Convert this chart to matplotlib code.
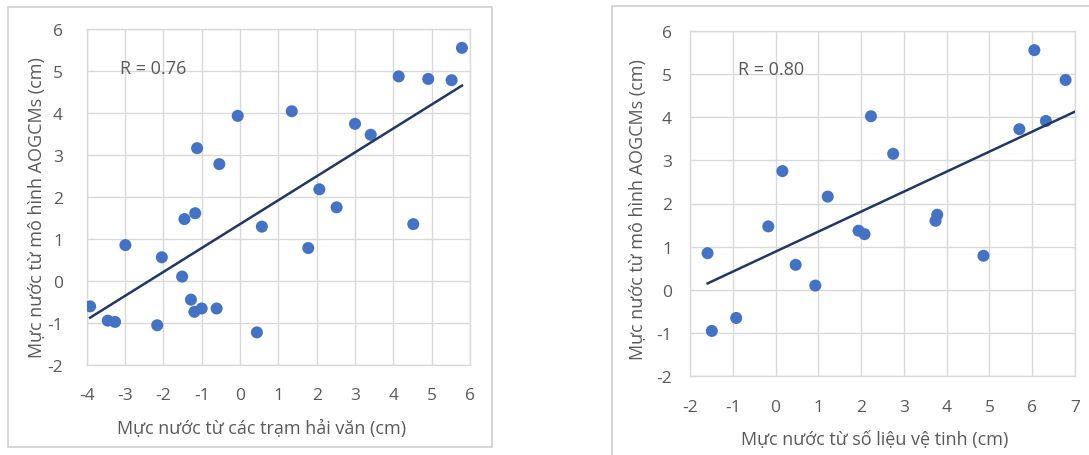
import numpy as np
import matplotlib
matplotlib.use("Agg")
import matplotlib.pyplot as plt
from matplotlib.patches import Rectangle

# ---- Data ----
station_x = [5.79, 4.14, 4.91, 5.52, -0.06, 1.35, 3.00, 3.41, -1.12, -0.54,
             2.07, -1.17, -1.45, 2.52, 0.57, 4.52, 1.78, -2.99, -2.04, -1.51,
             -1.28, -1.19, -1.00, -0.61, -3.91, -3.45, -3.26, -2.16, 0.44]
station_y = [5.55, 4.87, 4.81, 4.78, 3.93, 4.04, 3.74, 3.48, 3.16, 2.78,
             2.18, 1.61, 1.47, 1.75, 1.29, 1.35, 0.78, 0.85, 0.56, 0.10,
             -0.45, -0.74, -0.66, -0.66, -0.61, -0.95, -0.98, -1.06, -1.23]

sat_x = [6.05, 6.78, 6.32, 5.70, 2.23, 2.75, 0.16, 1.22, 3.78, 3.74,
         1.94, 2.08, -0.17, -1.59, 0.47, 0.93, 4.86, -0.92, -1.49]
sat_y = [5.55, 4.86, 3.91, 3.72, 4.02, 3.15, 2.75, 2.16, 1.74, 1.60,
         1.37, 1.29, 1.47, 0.85, 0.58, 0.10, 0.79, -0.65, -0.95]

# trend lines (slope, intercept)
left_trend = (0.570, 1.35)
right_trend = (0.463, 0.886)
right_trend_xmax = 7

left_xticks = [-4, -3, -2, -1, 0, 1, 2, 3, 4, 5, 6]
right_xticks = [-2, -1, 0, 1, 2, 3, 4, 5, 6, 7]
yticks = [-2, -1, 0, 1, 2, 3, 4, 5, 6]

left_R = "R = 0.76"
right_R = "R = 0.80"
ylabel = "Mực nước từ mô hình AOGCMs (cm)"
left_xlabel = "Mực nước từ các trạm hải văn (cm)"
right_xlabel = "Mực nước từ số liệu vệ tinh (cm)"

# ---- Style ----
plt.rcParams['font.family'] = ['Open Sans', 'DejaVu Sans']
plt.rcParams['axes.unicode_minus'] = False
W, H = 1089, 456
fig = plt.figure(figsize=(W / 100, H / 100), dpi=100)
fig.patch.set_facecolor('white')

TXT = '#595959'
GRID = '#D9D9D9'
DOT = '#4472C4'
LINE = '#1F3864'

def px_axes(x0, y0, x1, y1):
    return fig.add_axes([x0 / W, 1 - y1 / H, (x1 - x0) / W, (y1 - y0) / H])

def box(x0, y0, x1, y1):
    fig.patches.append(Rectangle((x0 / W, 1 - y1 / H), (x1 - x0) / W, (y1 - y0) / H,
                                 transform=fig.transFigure, fill=False,
                                 edgecolor='#D0D0D0', linewidth=1.2))

box(8, 8, 492, 448)
box(612, 7, 1095, 462)

def make(ax, xs, ys, xticks, trend, rtext, rpos, xlabel, ypad, xlab_pos, ylab_pos,
         xline_max=None):
    ax.set_xlim(xticks[0], xticks[-1])
    ax.set_ylim(yticks[0], yticks[-1])
    ax.set_xticks(xticks)
    ax.set_yticks(yticks)
    ax.grid(True, color=GRID, linewidth=1.0)
    ax.set_axisbelow(True)
    for s in ax.spines.values():
        s.set_color(GRID)
        s.set_linewidth(1.0)
    ax.tick_params(length=0, labelsize=12.5, labelcolor=TXT)
    ax.tick_params(axis='x', pad=16)
    ax.tick_params(axis='y', pad=ypad)
    ax.scatter(xs, ys, s=75, color=DOT, zorder=3, edgecolors='none')
    m, b = trend
    x0 = min(xs)
    x1 = max(xs) if xline_max is None else xline_max
    ax.plot([x0, x1], [m * x0 + b, m * x1 + b], color=LINE, linewidth=1.8, zorder=4)
    ax.text(rpos[0], rpos[1], rtext, fontsize=13, color=TXT, va='center', ha='left')
    ax.set_xlabel(xlabel, fontsize=13, color=TXT, va='center')
    ax.set_ylabel(ylabel, fontsize=13, color=TXT, va='center')
    ax.xaxis.set_label_coords(*xlab_pos)
    ax.yaxis.set_label_coords(*ylab_pos)

ax1 = px_axes(86.7, 30, 470, 365.7)
make(ax1, station_x, station_y, left_xticks, left_trend, left_R, (-3.13, 5.06),
     left_xlabel, 17, (0.457, -0.19), (-0.13, 0.47))

ax2 = px_axes(690, 31.7, 1075, 377.3)
make(ax2, sat_x, sat_y, right_xticks, right_trend, right_R, (-0.87, 5.12),
     right_xlabel, 13, (0.48, -0.181), (-0.135, 0.484), xline_max=right_trend_xmax)

fig.savefig('out.png', dpi=100, facecolor='white')
